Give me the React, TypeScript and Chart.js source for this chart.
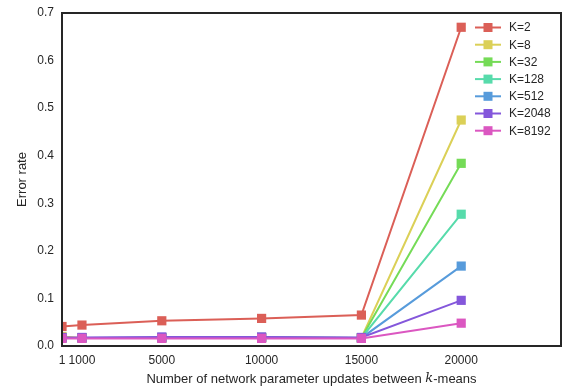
import React, { useEffect, useRef } from "react";
import { Chart, registerables } from "chart.js";

Chart.register(...registerables);

const xValues = [1, 1000, 5000, 10000, 15000, 20000];
const xTickValues = [1, 1000, 5000, 10000, 15000, 20000];
const yTickValues = [0, 0.1, 0.2, 0.3, 0.4, 0.5, 0.6, 0.7];

const seriesLabels = ["K=2", "K=8", "K=32", "K=128", "K=512", "K=2048", "K=8192"];
const k2 = [0.041, 0.044, 0.053, 0.058, 0.065, 0.670];
const k8 = [0.020, 0.017, 0.017, 0.017, 0.017, 0.475];
const k32 = [0.017, 0.017, 0.017, 0.018, 0.017, 0.384];
const k128 = [0.017, 0.017, 0.017, 0.018, 0.017, 0.277];
const k512 = [0.017, 0.017, 0.018, 0.018, 0.017, 0.168];
const k2048 = [0.018, 0.018, 0.019, 0.019, 0.018, 0.096];
const k8192 = [0.016, 0.016, 0.016, 0.016, 0.016, 0.048];
const seriesValues = [k2, k8, k32, k128, k512, k2048, k8192];
const seriesColors = ["#db5f57", "#dbd057", "#75db57", "#57dbab", "#579bdb", "#8457db", "#db57c1"];

const FONT = "'Liberation Sans', Arial, sans-serif";
const TEXT = "#262626";

const framePlugin = {
  id: "frame",
  afterDatasetsDraw(chart: any) {
    const { ctx, chartArea } = chart;
    ctx.save();
    ctx.strokeStyle = "#262626";
    ctx.lineWidth = 2;
    ctx.strokeRect(chartArea.left, chartArea.top, chartArea.right - chartArea.left, chartArea.bottom - chartArea.top);
    ctx.restore();
  },
  afterDraw(chart: any) {
    const { ctx, chartArea } = chart;
    ctx.save();
    const lx0 = 475, lx1 = 501, tx = 509, y0 = 27.5, dy = 17.2;
    ctx.font = `12px ${FONT}`;
    ctx.textBaseline = "middle";
    ctx.textAlign = "left";
    seriesLabels.forEach((lab, i) => {
      const y = y0 + i * dy;
      ctx.strokeStyle = seriesColors[i];
      ctx.lineWidth = 2;
      ctx.beginPath();
      ctx.moveTo(lx0, y);
      ctx.lineTo(lx1, y);
      ctx.stroke();
      ctx.fillStyle = seriesColors[i];
      ctx.fillRect(488 - 4.5, y - 4.5, 9, 9);
      ctx.fillStyle = TEXT;
      ctx.fillText(lab, tx, y + 0.5);
    });
    const yT = 379;
    const part1 = "Number of network parameter updates between ";
    const part2 = "k";
    const part3 = "-means";
    ctx.font = `13px ${FONT}`;
    const w1 = ctx.measureText(part1).width;
    const w3 = ctx.measureText(part3).width;
    ctx.font = `italic 13px 'DejaVu Serif', serif`;
    const w2 = ctx.measureText(part2).width;
    const total = w1 + w2 + w3;
    const cx = (chartArea.left + chartArea.right) / 2;
    let x = cx - total / 2;
    ctx.fillStyle = TEXT;
    ctx.font = `13px ${FONT}`;
    ctx.fillText(part1, x, yT);
    x += w1;
    ctx.font = `italic 13px 'DejaVu Serif', serif`;
    ctx.fillText(part2, x, yT);
    x += w2;
    ctx.font = `13px ${FONT}`;
    ctx.fillText(part3, x, yT);
    ctx.translate(22.5, (chartArea.top + chartArea.bottom) / 2);
    ctx.rotate(-Math.PI / 2);
    ctx.textAlign = "center";
    ctx.fillText("Error rate", 0, 0);
    ctx.restore();
  },
};

export default function App() {
  const ref = useRef<HTMLCanvasElement>(null);
  useEffect(() => {
    if (!ref.current) return;
    const chart = new Chart(ref.current, {
      type: "line",
      data: {
        datasets: seriesLabels.map((lab, i) => ({
          label: lab,
          data: xValues.map((x, j) => ({ x, y: seriesValues[i][j] })),
          borderColor: seriesColors[i],
          backgroundColor: seriesColors[i],
          borderWidth: 2,
          pointStyle: "rect",
          pointRadius: 6.5,
          pointBorderWidth: 0,
          pointHoverRadius: 6.5,
          tension: 0,
          clip: 0,
          order: 10 - i,
        })),
      },
      options: {
        responsive: false,
        animation: false,
        devicePixelRatio: 1,
        layout: { autoPadding: false, padding: { top: 13, right: 1, left: 0, bottom: 0 } },
        plugins: { legend: { display: false }, tooltip: { enabled: false } },
        events: [],
        scales: {
          x: {
            type: "linear",
            min: 0,
            max: 25000,
            grid: { display: false, drawTicks: false },
            border: { display: false },
            afterBuildTicks: (scale: any) => {
              scale.ticks = xTickValues.map((v) => ({ value: v }));
            },
            afterFit: (scale: any) => {
              scale.height = 43;
              scale.paddingLeft = 0;
              scale.paddingRight = 0;
            },
            ticks: {
              autoSkip: false,
              maxRotation: 0,
              padding: 7,
              color: TEXT,
              font: { family: FONT, size: 12 },
              callback: (v: any) => String(v),
            },
          },
          y: {
            type: "linear",
            min: 0,
            max: 0.7,
            grid: { display: false, drawTicks: false },
            border: { display: false },
            afterBuildTicks: (scale: any) => {
              scale.ticks = yTickValues.map((v) => ({ value: v }));
            },
            afterFit: (scale: any) => {
              scale.width = 62;
              scale.paddingTop = 0;
              scale.paddingBottom = 0;
            },
            ticks: {
              padding: 8,
              color: TEXT,
              font: { family: FONT, size: 12 },
              callback: (v: any) => Number(v).toFixed(1),
            },
          },
        },
      },
      plugins: [framePlugin],
    } as any);
    return () => chart.destroy();
  }, []);
  return (
    <div style={{ position: "fixed", left: 0, top: 0, width: 562, height: 389, background: "#fff" }}>
      <canvas ref={ref} width={562} height={389} />
    </div>
  );
}
